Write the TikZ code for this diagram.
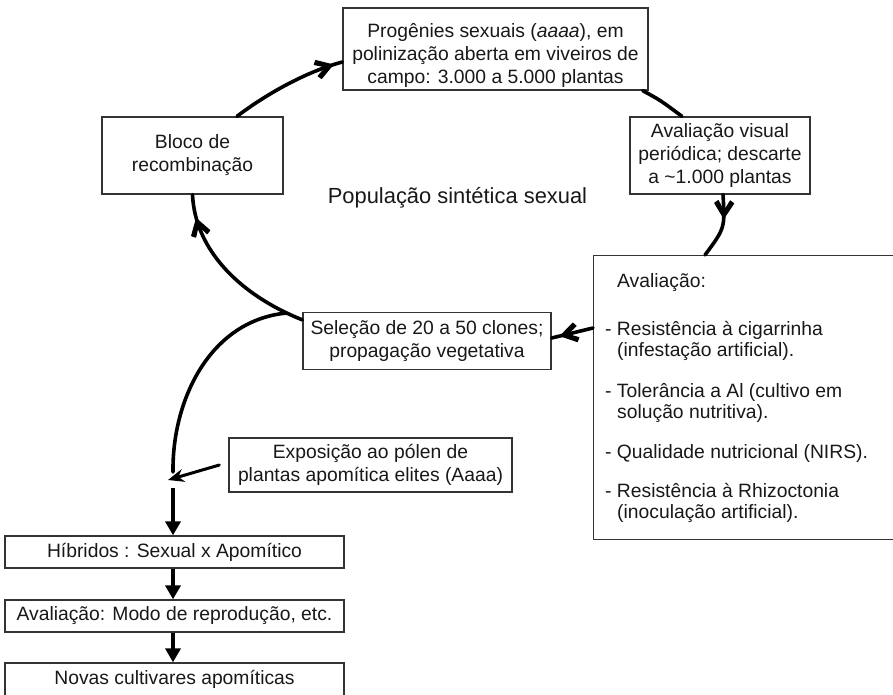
\documentclass[tikz,border=0pt]{standalone}
\usepackage{fontspec}
\setmainfont{Liberation Sans}
\usetikzlibrary{arrows.meta,decorations.markings}
\definecolor{ink}{HTML}{1A1718}
\definecolor{framec}{HTML}{333333}
\begin{document}
\begin{tikzpicture}[x=1pt,y=-1pt,
  every node/.style={text=ink},
  boxn/.style={draw=framec, line width=1.3pt, inner sep=0pt, align=center,
    font=\fontsize{19.3}{23}\selectfont},
  txt/.style={inner sep=0pt, anchor=base west, font=\fontsize{19.3}{23}\selectfont},
  flow/.style={draw=black, line width=3.6pt, line cap=round},
  midbarb/.style={postaction={decorate, decoration={markings,
    mark=at position #1 with {\filldraw[black, line width=1pt, line join=round]
      (2pt,0pt) -- (-13pt,9.5pt) -- (-15.5pt,6pt) -- (-5pt,0pt) -- (-15.5pt,-6pt) -- (-13pt,-9.5pt) -- cycle;}}}},
  bigarrow/.style={draw=black, line width=4.2pt, -{Triangle[length=14pt,width=15pt]}},
  thinarrow/.style={draw=black, line width=3pt, line cap=round, -{Stealth[length=16pt,width=13pt]}}
]
\useasboundingbox (0,0) rectangle (893,694);

% boxes
\node[boxn, minimum width=305pt, minimum height=82pt] (prog) at (495.5,49)
  {\rule{0pt}{27pt}Progênies sexuais (\textit{aaaa}), em\\polinização aberta em viveiros de\\campo: 3.000 a 5.000 plantas};
\node[boxn, minimum width=181pt, minimum height=77pt] (bloco) at (192.5,155.5)
  {Bloco de\\recombinação};
\node[boxn, minimum width=180pt, minimum height=77pt] (avis) at (720,155.5)
  {Avaliação visual\\periódica; descarte\\a \textasciitilde 1.000 plantas};
\node[boxn, anchor=north west, minimum width=312pt, minimum height=284pt] (eval) at (593,255) {};
\node[boxn, minimum width=248pt, minimum height=57pt] (sel) at (427,341)
  {Seleção de 20 a 50 clones;\\propagação vegetativa};
\node[boxn, minimum width=283pt, minimum height=54pt] (expo) at (370.5,465)
  {Exposição ao pólen de\\plantas apomítica elites (Aaaa)};
\node[boxn, minimum width=339pt, minimum height=32pt] (hib) at (174.5,552)
  {Híbridos : Sexual x Apomítico};
\node[boxn, minimum width=339pt, minimum height=32pt] (modo) at (174.5,616)
  {Avaliação: Modo de reprodução, etc.};
\node[boxn, minimum width=339pt, minimum height=33pt] (novas) at (174.5,679.5)
  {Novas cultivares apomíticas};

% center label
\node[inner sep=0pt, font=\fontsize{21.9}{26}\selectfont] (pop) at (457.5,198)
  {População sintética sexual};

% evaluation list
\node[txt] (e0) at (617,287) {Avaliação:};
\node[txt] (e1) at (605,335) {- Resistência à cigarrinha};
\node[txt] (e1b) at (617,356) {(infestação artificial).};
\node[txt] (e2) at (605,397) {- Tolerância a Al (cultivo em};
\node[txt] (e2b) at (617,418) {solução nutritiva).};
\node[txt] (e3) at (605,458) {- Qualidade nutricional (NIRS).};
\node[txt] (e4) at (605,497) {- Resistência à Rhizoctonia};
\node[txt] (e4b) at (617,518) {(inoculação artificial).};

% coordinates
\coordinate (br) at (287,313);
\coordinate (jn) at (173,480);

% cycle connectors
\draw[flow, midbarb=0.9] ([xshift=44.5pt]bloco.north) .. controls (265,95) and (305,72) .. ([yshift=-13pt]prog.west);
\draw[flow] ([xshift=-6pt]prog.south east) .. controls (660,100) .. ([xshift=-38pt]avis.north);
\draw[flow, midbarb=0.33] ([xshift=3pt]avis.south) .. controls (725,228) .. ([xshift=112pt]eval.north west);
\draw[flow, midbarb=0.74] ([yshift=-73pt]eval.north west) -- ([yshift=3pt]sel.east);
\draw[flow, midbarb=0.85] ([yshift=-8pt]sel.north west) .. controls (240,295) and (195,250) .. (bloco.south);

% branch to hybrids
\draw[flow] (br) .. controls (210,320) and (172,400) .. ([yshift=8pt]jn);
\draw[thinarrow] ([xshift=-9pt]expo.west) -- ([xshift=-5pt]jn);
\draw[bigarrow] ([yshift=-8pt]jn) -- (jn |- hib.north);
\draw[bigarrow] (hib.south -| jn) -- (jn |- modo.north);
\draw[bigarrow] (modo.south -| jn) -- (jn |- novas.north);
\end{tikzpicture}
\end{document}
